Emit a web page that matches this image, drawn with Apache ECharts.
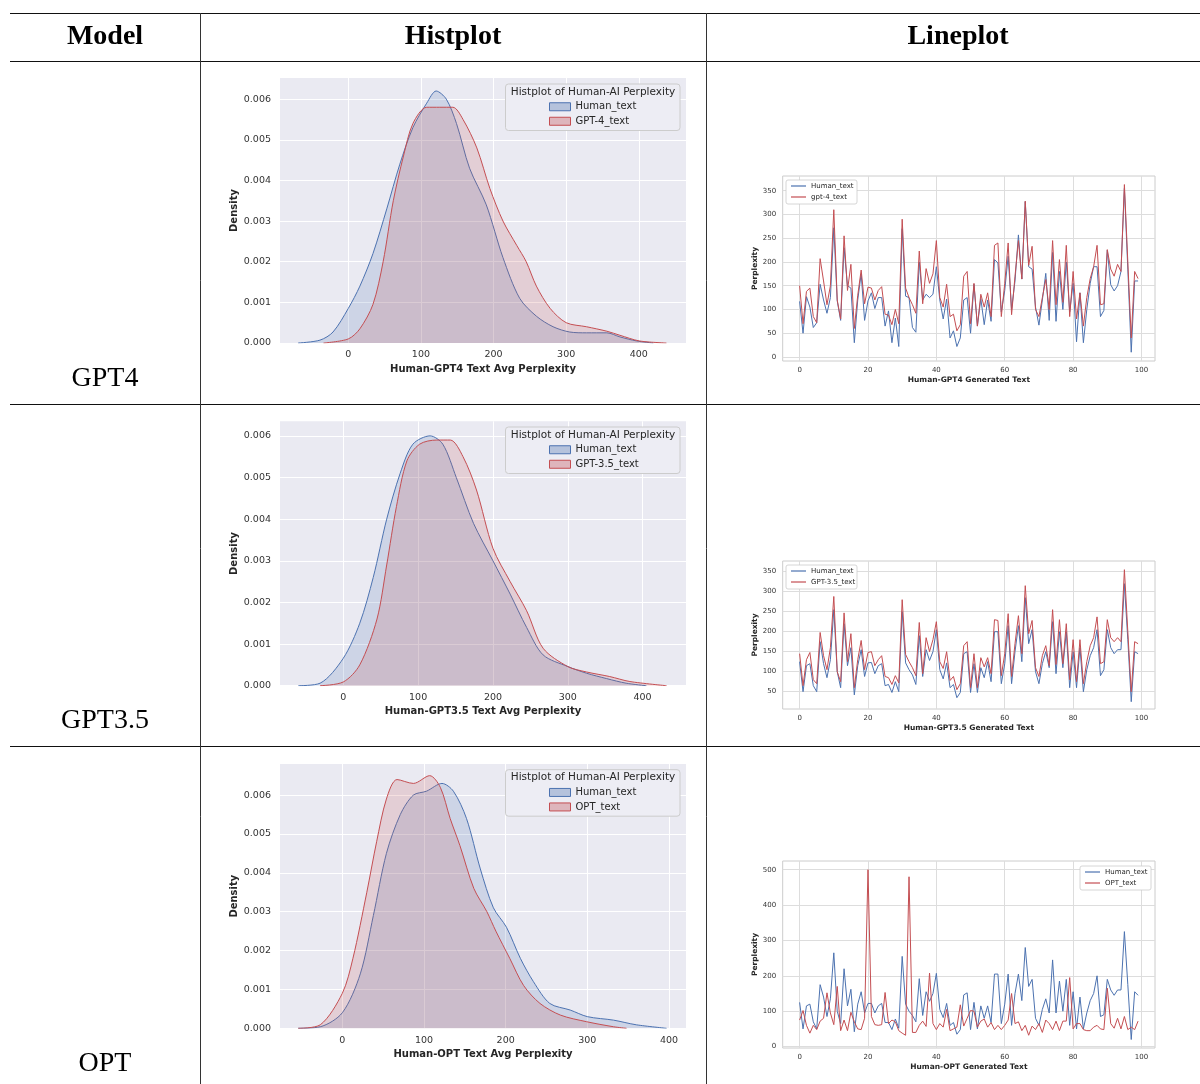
<!DOCTYPE html>
<html><head><meta charset="utf-8">
<script src="https://cdn.jsdelivr.net/npm/echarts@6/dist/echarts.min.js"></script>
<style>html,body{margin:0;padding:0;background:#fff}#c{width:1200px;height:1084px}</style>
</head><body><div id="c"></div>
<script>
// ---------- Table text ----------
const headers = ['Model', 'Histplot', 'Lineplot'];
const modelNames = ['GPT4', 'GPT3.5', 'OPT'];

// ---------- KDE (Histplot) data: x positions and density values ----------
const kdeGpt4HumanX = [-69,-39,-21,0,16,34,53,71,89,108,121,135,149,167,190,213,236,259,282,305,328,356,374,397,420];
const kdeGpt4HumanY = [0,0.00007,0.00027,0.00085,0.0014,0.0022,0.0033,0.0044,0.0053,0.0059,0.0062,0.0060,0.0054,0.0043,0.0034,0.0021,0.0011,0.00066,0.0004,0.00027,0.00025,0.00025,0.00015,0.00005,0];
const kdeGpt4AiX = [-34,0,16,34,48,62,76,89,108,126,144,158,177,195,213,232,245,259,278,300,328,356,374,401,438];
const kdeGpt4AiY = [0,0.0001,0.00035,0.00095,0.002,0.0035,0.0046,0.0054,0.0058,0.0058,0.0058,0.0055,0.0048,0.0038,0.003,0.0024,0.002,0.0014,0.00085,0.0005,0.0004,0.00029,0.00019,0.00005,0];

const kdeGpt35HumanX = [-60,-31,0,22,40,58,76,93,116,133,151,174,200,223,245,267,300,325,352,378,405];
const kdeGpt35HumanY = [0,0.00006,0.00066,0.0015,0.0026,0.004,0.0051,0.0058,0.006,0.0058,0.005,0.0039,0.003,0.0022,0.0014,0.00074,0.00046,0.0003,0.00017,0.00006,0];
const kdeGpt35AiX = [-31,0,22,45,58,71,85,102,125,143,160,178,200,223,245,267,300,325,356,383,432];
const kdeGpt35AiY = [0,0.00009,0.0005,0.0016,0.0029,0.0043,0.0054,0.0058,0.0059,0.0059,0.0055,0.0047,0.0033,0.0025,0.0018,0.0009,0.00046,0.00033,0.00022,0.0001,0];

const kdeOptHumanX = [-54,-27,0,22,38,54,71,87,103,122,136,152,169,185,201,218,234,254,279,300,332,360,397];
const kdeOptHumanY = [0,0.00004,0.0004,0.0014,0.0029,0.0045,0.0055,0.006,0.0061,0.0063,0.0061,0.0054,0.0041,0.0031,0.0026,0.0018,0.0012,0.00064,0.00047,0.0003,0.00021,0.00009,0];
const kdeOptAiX = [-54,-27,0,13,30,42,54,67,87,107,120,132,144,161,177,188,205,222,242,267,299,332,348];
const kdeOptAiY = [0,0.00009,0.0009,0.0018,0.0035,0.0048,0.0059,0.0064,0.0063,0.0065,0.0062,0.0054,0.0047,0.0036,0.003,0.0025,0.0018,0.0011,0.00064,0.00034,0.00017,0.00004,0];

const kdeXTicks = [0,100,200,300,400];
const kdeYTicks = [0,0.001,0.002,0.003,0.004,0.005,0.006];

// ---------- Lineplot data (index 0..99) ----------
const gpt4Human = [117,50,127,105,62,72,153,120,92,125, 272,118,77,230,150,145,30,120,175,77, 118,135,102,125,125,65,97,30,82,22, 270,128,125,62,52,200,120,132,125,132, 190,120,80,122,40,55,22,40,120,125, 50,153,65,123,68,120,75,205,198,95, 140,212,100,160,257,164,327,190,185,105, 67,120,176,77,220,75,180,100,200,95, 155,32,135,30,100,155,190,190,85,98, 225,152,139,150,180,355,185,10,160,160];
const gpt4Ai = [150,70,138,145,85,72,207,160,110,150, 310,120,80,255,140,195,60,130,183,112, 147,145,120,140,148,90,88,68,100,70, 290,145,125,110,92,223,112,186,155,175, 245,125,105,153,85,90,55,68,170,180, 70,155,65,132,105,135,85,235,240,85, 155,240,89,170,245,164,328,193,233,100, 85,125,163,100,245,110,205,115,235,85, 180,80,135,65,125,165,190,235,110,112, 226,185,170,195,180,363,200,40,180,165];
const gpt35Human = [125,50,115,120,65,50,175,120,85,130, 255,100,60,220,115,160,42,115,155,88, 122,123,95,115,120,65,68,48,75,50, 250,122,105,92,68,190,88,155,128,150, 205,105,82,122,60,68,35,48,145,150, 48,120,48,110,85,125,75,200,200,70, 120,215,70,150,215,125,285,170,205,100, 70,120,150,110,225,95,200,110,200,60, 150,60,160,50,105,140,160,205,90,105, 205,160,145,155,155,320,180,25,150,145];
const gpt35Ai = [145,65,130,148,80,70,198,140,105,160, 288,100,75,247,125,195,60,130,178,105, 148,150,115,130,140,88,85,68,90,72, 280,143,125,110,90,223,95,185,150,180, 225,125,108,150,78,88,55,70,165,175, 60,145,60,135,112,135,95,230,228,90, 145,245,88,170,240,145,315,195,228,110, 88,140,165,115,255,118,230,120,220,80, 180,75,180,70,125,165,185,237,120,125, 230,185,175,185,175,355,200,50,175,170];
const optHuman = [125,50,115,120,70,50,175,140,85,135, 265,100,65,220,115,162,42,120,155,95, 122,122,95,115,122,68,68,48,78,52, 255,120,100,88,70,192,88,155,128,150, 207,105,82,122,60,68,35,48,146,152, 48,125,50,115,80,115,68,205,205,65, 120,205,60,150,205,130,280,170,190,80, 60,105,135,95,245,95,185,100,190,60, 155,50,140,50,95,130,150,200,85,90, 190,160,145,160,160,325,175,20,155,145];
const optAi = [75,102,60,38,60,48,72,80,152,95, 62,170,45,75,45,97,70,50,48,80, 500,85,62,60,62,153,65,75,70,45, 38,32,480,40,40,60,72,57,208,65, 48,65,55,105,45,50,55,118,58,80, 102,100,55,72,78,55,68,48,60,48, 60,75,150,65,70,45,60,32,58,48, 65,40,75,65,48,72,45,72,72,195, 50,65,65,48,45,45,55,60,50,48, 165,65,52,80,50,85,48,55,48,72];

const lineXTicks = [0,20,40,60,80,100];
const gpt4YTicks = [0,50,100,150,200,250,300,350];
const gpt35YTicks = [50,100,150,200,250,300,350];
const optYTicks = [0,100,200,300,400,500];

// ---------- styling ----------
const BLUE = '#4C72B0', RED = '#C44E52';
const BLUE_FILL = 'rgba(76,114,176,0.25)', RED_FILL = 'rgba(196,78,82,0.25)';
const SANS = 'DejaVu Sans';
const pairs = (xs, ys) => xs.map((x, i) => [x, ys[i]]);
const idx = vs => vs.map((v, i) => [i, v]);

const grids = [], xAxes = [], yAxes = [], series = [], legends = [], graphics = [];

function addKde(o) {
  const g = grids.length;
  grids.push({left: 280, top: o.top, width: 406, height: o.height, show: true, backgroundColor: '#EAEAF2', borderWidth: 0, containLabel: false});
  xAxes.push({gridIndex: g, type: 'value', min: o.xmin, max: o.xmax,
    name: o.xTitle, nameLocation: 'middle', nameGap: o.nameGap,
    nameTextStyle: {fontFamily: SANS, fontWeight: 'bold', fontSize: 10, color: '#262626'},
    axisLine: {show: false}, axisTick: {show: false, customValues: kdeXTicks},
    axisLabel: {customValues: kdeXTicks, margin: o.labelMargin, fontFamily: SANS, fontSize: 9.5, color: '#333'},
    splitLine: {show: true, lineStyle: {color: '#ffffff', width: 1}}});
  yAxes.push({gridIndex: g, type: 'value', min: 0, max: o.ymax,
    name: 'Density', nameLocation: 'middle', nameGap: 40, nameRotate: 90,
    nameTextStyle: {fontFamily: SANS, fontWeight: 'bold', fontSize: 10, color: '#262626'},
    axisLine: {show: false}, axisTick: {show: false, customValues: kdeYTicks},
    axisLabel: {customValues: kdeYTicks, margin: 9, fontFamily: SANS, fontSize: 9.5, color: '#333', formatter: v => v.toFixed(3)},
    splitLine: {show: true, lineStyle: {color: '#ffffff', width: 1}}});
  series.push({name: 'Human_text', type: 'line', xAxisIndex: g, yAxisIndex: g, data: pairs(o.hx, o.hy),
    smooth: 0.3, symbol: 'none', lineStyle: {color: BLUE, width: 1}, itemStyle: {color: BLUE}, areaStyle: {color: BLUE_FILL}, z: 2});
  series.push({name: o.aiName, type: 'line', xAxisIndex: g, yAxisIndex: g, data: pairs(o.ax, o.ay),
    smooth: 0.3, symbol: 'none', lineStyle: {color: RED, width: 1}, itemStyle: {color: RED}, areaStyle: {color: RED_FILL}, z: 3});
  // legend frame + title
  graphics.push({type: 'rect', z: 50, shape: {x: 505.5, y: o.legTop, width: 174.5, height: 46.5, r: 3},
    style: {fill: '#EDEDF4', stroke: '#CCCCCC', lineWidth: 1}});
  graphics.push({type: 'text', z: 51, style: {text: 'Histplot of Human-AI Perplexity', x: 593, y: o.legTop + 8,
    fontFamily: SANS, fontSize: 10.5, fill: '#262626', align: 'center', verticalAlign: 'middle'}});
  legends.push({orient: 'vertical', left: 549, top: o.legTop + 15.5, padding: 0, itemGap: 0, z: 60,
    itemWidth: 21, itemHeight: 8, selectedMode: false,
    textStyle: {fontFamily: SANS, fontSize: 10, color: '#262626', lineHeight: 14.5},
    data: [
      {name: 'Human_text', icon: 'rect', itemStyle: {color: 'rgba(76,114,176,0.35)', borderColor: BLUE, borderWidth: 1}},
      {name: o.aiName, icon: 'rect', itemStyle: {color: 'rgba(196,78,82,0.35)', borderColor: RED, borderWidth: 1}}
    ]});
}

function addLine(o) {
  const g = grids.length;
  grids.push({left: 782.7, top: o.top, width: 372.3, height: o.height, show: true, backgroundColor: '#ffffff', borderColor: '#CCCCCC', borderWidth: 1, containLabel: false});
  xAxes.push({gridIndex: g, type: 'value', min: -4.95, max: 103.95,
    name: o.xTitle, nameLocation: 'middle', nameGap: o.nameGap,
    nameTextStyle: {fontFamily: SANS, fontWeight: 'bold', fontSize: 7.5, color: '#262626'},
    axisLine: {show: false}, axisTick: {show: false, customValues: lineXTicks},
    axisLabel: {customValues: lineXTicks, margin: o.labelMargin, fontFamily: SANS, fontSize: 7, color: '#333'},
    splitLine: {show: true, lineStyle: {color: '#DDDDDD', width: 1}}});
  yAxes.push({gridIndex: g, type: 'value', min: o.ymin, max: o.ymax,
    name: 'Perplexity', nameLocation: 'middle', nameGap: 24, nameRotate: 90,
    nameTextStyle: {fontFamily: SANS, fontWeight: 'bold', fontSize: 7.5, color: '#262626'},
    axisLine: {show: false}, axisTick: {show: false, customValues: o.yTicks},
    axisLabel: {customValues: o.yTicks, margin: 6.5, fontFamily: SANS, fontSize: 7, color: '#333'},
    splitLine: {show: true, lineStyle: {color: '#DDDDDD', width: 1}}});
  series.push({name: 'Human_text', type: 'line', xAxisIndex: g, yAxisIndex: g, data: idx(o.h),
    symbol: 'none', lineStyle: {color: BLUE, width: 1}, itemStyle: {color: BLUE}, z: 2});
  series.push({name: o.aiName, type: 'line', xAxisIndex: g, yAxisIndex: g, data: idx(o.a),
    symbol: 'none', lineStyle: {color: RED, width: 1}, itemStyle: {color: RED}, z: 3});
  graphics.push({type: 'rect', z: 50, shape: {x: o.legX, y: o.legY, width: 71, height: 24, r: 2},
    style: {fill: '#ffffff', stroke: '#CCCCCC', lineWidth: 0.8}});
  legends.push({orient: 'vertical', left: o.legX + 5, top: o.legY + 0.5, padding: 0, itemGap: 0, z: 60,
    itemWidth: 15, itemHeight: 1.2, selectedMode: false,
    textStyle: {fontFamily: SANS, fontSize: 7, color: '#262626', lineHeight: 11},
    data: [
      {name: 'Human_text', icon: 'rect', itemStyle: {color: BLUE, borderWidth: 0}},
      {name: o.aiName, icon: 'rect', itemStyle: {color: RED, borderWidth: 0}}
    ]});
}

addKde({top: 78, height: 265, xmin: -94, xmax: 465, ymax: 0.00652, xTitle: 'Human-GPT4 Text Avg Perplexity',
  nameGap: 21, labelMargin: 7, aiName: 'GPT-4_text', hx: kdeGpt4HumanX, hy: kdeGpt4HumanY, ax: kdeGpt4AiX, ay: kdeGpt4AiY, legTop: 84});
addKde({top: 421.3, height: 264.4, xmin: -84.6, xmax: 458, ymax: 0.00635, xTitle: 'Human-GPT3.5 Text Avg Perplexity',
  nameGap: 20.6, labelMargin: 7.3, aiName: 'GPT-3.5_text', hx: kdeGpt35HumanX, hy: kdeGpt35HumanY, ax: kdeGpt35AiX, ay: kdeGpt35AiY, legTop: 427});
addKde({top: 764, height: 264.3, xmin: -76.3, xmax: 420.8, ymax: 0.0068, xTitle: 'Human-OPT Text Avg Perplexity',
  nameGap: 21, labelMargin: 7.7, aiName: 'OPT_text', hx: kdeOptHumanX, hy: kdeOptHumanY, ax: kdeOptAiX, ay: kdeOptAiY, legTop: 769.7});

addLine({top: 176, height: 185, ymin: -8.5, ymax: 381, yTicks: gpt4YTicks, xTitle: 'Human-GPT4 Generated Text',
  nameGap: 15.5, labelMargin: 5.5, aiName: 'gpt-4_text', h: gpt4Human, a: gpt4Ai, legX: 786, legY: 180});
addLine({top: 561, height: 148, ymin: 6.7, ymax: 376.7, yTicks: gpt35YTicks, xTitle: 'Human-GPT3.5 Generated Text',
  nameGap: 15.5, labelMargin: 5.5, aiName: 'GPT-3.5_text', h: gpt35Human, a: gpt35Ai, legX: 786, legY: 565});
addLine({top: 861, height: 187, ymin: -4, ymax: 524.6, yTicks: optYTicks, xTitle: 'Human-OPT Generated Text',
  nameGap: 15, labelMargin: 5.4, aiName: 'OPT_text', h: optHuman, a: optAi, legX: 1080, legY: 866});

// ---------- table rules and text ----------
const hLines = [13.5, 61.5, 404.5, 746.5];
hLines.forEach(y => graphics.push({type: 'line', z: 40, shape: {x1: 10, y1: y, x2: 1200, y2: y}, style: {stroke: '#111', lineWidth: 1.2}}));
[200.5, 706.5].forEach(x => graphics.push({type: 'line', z: 40, shape: {x1: x, y1: 13, x2: x, y2: 1084}, style: {stroke: '#333', lineWidth: 1}}));
const headerX = [105, 453, 958];
headers.forEach((t, i) => graphics.push({type: 'text', z: 40, style: {text: t, x: headerX[i], y: 37,
  fontFamily: 'Liberation Serif', fontWeight: 'bold', fontSize: 28, fill: '#000', align: 'center', verticalAlign: 'middle'}}));
const rowY = [379, 721, 1064];
modelNames.forEach((t, i) => graphics.push({type: 'text', z: 40, style: {text: t, x: 105, y: rowY[i],
  fontFamily: 'Liberation Serif', fontSize: 28, fill: '#000', align: 'center', verticalAlign: 'middle'}}));

const chart = echarts.init(document.getElementById('c'), null, {renderer: 'canvas'});
chart.setOption({
  animation: false,
  backgroundColor: '#ffffff',
  grid: grids, xAxis: xAxes, yAxis: yAxes, series: series, legend: legends,
  graphic: {elements: graphics}
});
</script>
</body></html>
